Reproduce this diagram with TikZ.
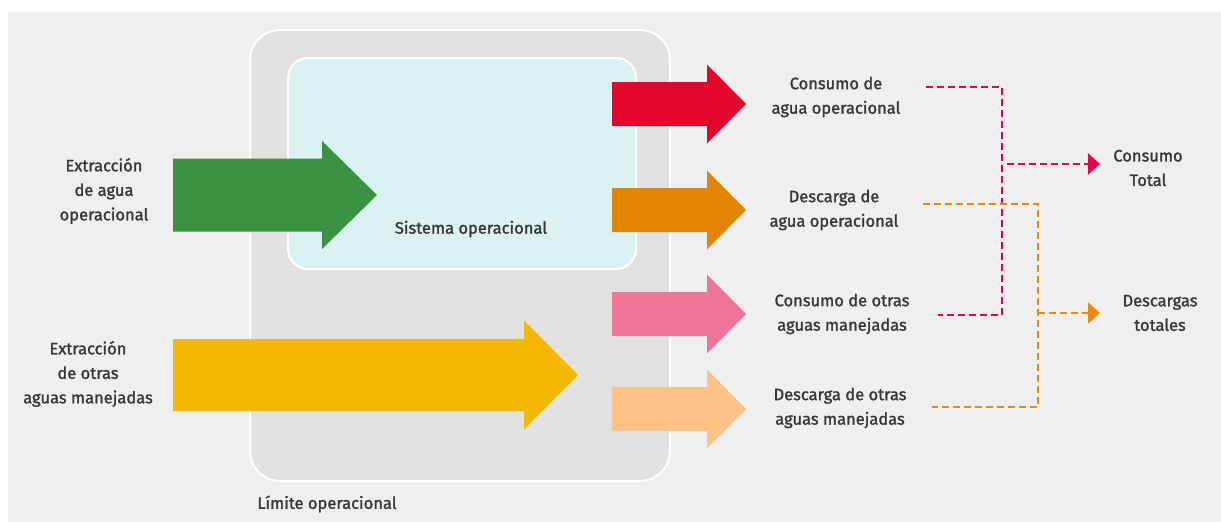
\documentclass[tikz,border=0pt]{standalone}
\usepackage{fontspec}
\setmainfont{Fira Sans}[FakeBold=1.5]
\usetikzlibrary{arrows.meta}

\definecolor{fondo}{HTML}{EFEFEF}
\definecolor{limite}{HTML}{E1E1E1}
\definecolor{sistema}{HTML}{DBF2F3}
\definecolor{verde}{HTML}{3C9243}
\definecolor{amarillo}{HTML}{F2B900}
\definecolor{rojo}{HTML}{E2062A}
\definecolor{naranja}{HTML}{E38503}
\definecolor{rosa}{HTML}{EF7499}
\definecolor{melon}{HTML}{FDC286}
\definecolor{rojolinea}{HTML}{E6004E}
\definecolor{naranjalinea}{HTML}{E98A0B}
\definecolor{textogris}{HTML}{383838}

% flecha gruesa: color, x inicio, x cabeza, x punta, y punta, medio cuerpo, media cabeza
\newcommand{\flecha}[7]{\fill[#1] (#2,#5-#6) -- (#3,#5-#6) -- (#3,#5-#7) -- (#4,#5) -- (#3,#5+#7) -- (#3,#5+#6) -- (#2,#5+#6) -- cycle;}

\begin{document}
\begin{tikzpicture}[x=1pt,y=-1pt,
  texto/.style={align=center,inner sep=0pt,text=textogris,font=\fontsize{16.5}{24.5}\selectfont},
  caja/.style={draw=white,line width=2pt},
  rayas/.style={line width=2pt,dash pattern=on 7pt off 4pt},
  punta/.style={-{Triangle[length=12pt,width=21pt]}}]
\useasboundingbox (0,0) rectangle (1221,522);
\fill[white] (0,0) rectangle (1221,522);
\fill[fondo] (8,12) rectangle (1221,522);
%\begin{scope}
\draw [caja,fill=limite,rounded corners=30pt] (250,30) rectangle (670,481); % limite
\draw [caja,fill=sistema,rounded corners=20pt] (288,58) rectangle (636,269); % sistema
\flecha{verde}{173}{322}{377}{195}{36.5}{54} %1
\flecha{amarillo}{173}{524}{578}{375}{36}{54.5} %2
\flecha{rojo}{612}{707}{746}{104}{22}{39.5} %3
\flecha{naranja}{612}{707}{746}{210}{22}{39.5} %4
\flecha{rosa}{612}{707}{746}{314}{22}{39.5} %5
\flecha{melon}{612}{707}{746}{409}{22}{39.5} %6
%\end{scope}
\node [texto] (extagua) at (104,191) {Extracción\\de agua\\operacional};
\node [texto] (extotras) at (88,374) {Extracción\\de otras\\aguas manejadas};
\node [texto] (sistema) at (471,229) {Sistema operacional};
\node [texto] (limite) at (327,504) {Límite operacional};
\node [texto] (cagua) at (836,97) {Consumo de\\agua operacional};
\node [texto] (dagua) at (834,210) {Descarga de\\agua operacional};
\node [texto] (cotras) at (842,314) {Consumo de otras\\aguas manejadas};
\node [texto] (dotras) at (840,408) {Descarga de otras\\aguas manejadas};
\node [texto] (ctotal) at (1148,168) {Consumo\\Total};
\node [texto] (dtotal) at (1160,313) {Descargas\\totales};
\coordinate (ini1) at (926,87);
\coordinate (ini2) at (923,204);
\coordinate (ini3) at (938,315);
\coordinate (ini4) at (932,407);
\coordinate (jrojo) at (1002,164);
\coordinate (jnaranja) at (1038,313);
\draw [rayas,rojolinea] (ini1) -| (jrojo) |- (ini3);
\draw [rayas,rojolinea,punta] ([xshift=5pt]jrojo) -- (jrojo -| 1100,0);
\draw [rayas,naranjalinea] (ini2) -| (jnaranja) |- (ini4);
\draw [rayas,naranjalinea,punta] (jnaranja) -- (jnaranja -| 1100,0);
\end{tikzpicture}
\end{document}
